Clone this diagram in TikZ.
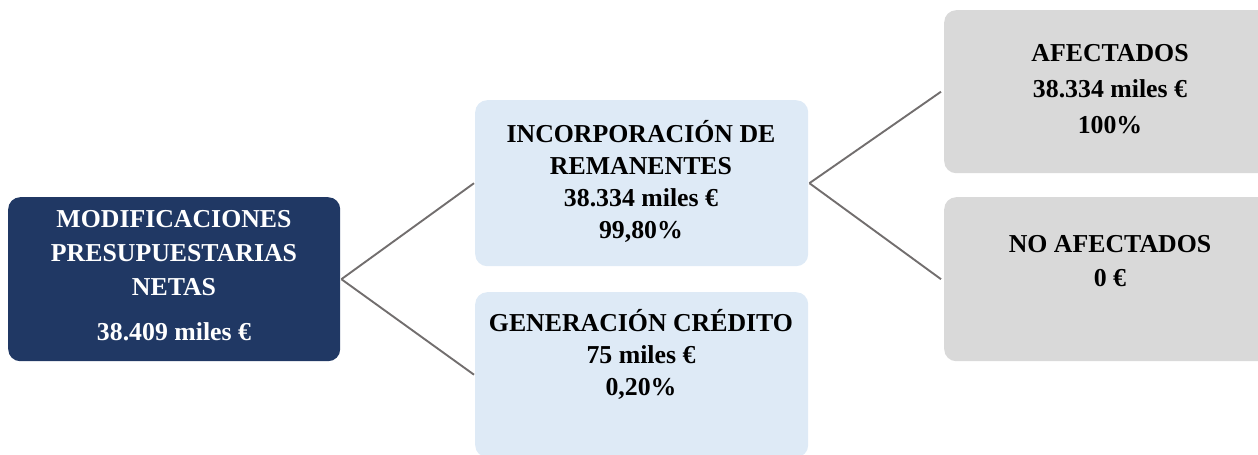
\documentclass[tikz,border=0pt]{standalone}
\usepackage{fontspec}
\setmainfont{Liberation Serif}
\definecolor{navy}{RGB}{32,56,100}
\definecolor{paleblue}{RGB}{222,234,246}
\definecolor{palegray}{RGB}{217,217,217}
\definecolor{linegray}{RGB}{114,110,110}
\begin{document}
\begin{tikzpicture}[x=1pt,y=-1pt,
  box/.style={rectangle, rounded corners=12pt, inner sep=0pt, anchor=north west,
    minimum width=332pt, minimum height=164pt},
  lbl/.style={align=center, font=\bfseries\fontsize{25.8}{33.5}\selectfont, anchor=base, inner sep=0pt},
  conn/.style={draw=linegray, line width=1.9pt}]
\useasboundingbox (0,0) rectangle (1258,455);
\clip (0,0) rectangle (1258,455);
\node[box, fill=navy] (L) at (8,197) {};
\node[box, fill=paleblue, minimum width=333pt, minimum height=166pt] (MT) at (475,100) {};
\node[box, fill=paleblue, minimum width=333pt, minimum height=165pt] (MB) at (475,292) {};
\node[box, fill=palegray, minimum height=163pt] (RT) at (944,10) {};
\node[box, fill=palegray] (RB) at (944,197) {};
\draw[conn] ([xshift=1pt]L.east) -- ([xshift=-1pt]MT.west);
\draw[conn] ([xshift=1pt]L.east) -- ([xshift=-1pt]MB.west);
\draw[conn] ([xshift=1pt]MT.east) -- ([xshift=-3pt]RT.west);
\draw[conn] ([xshift=1pt]MT.east) -- ([xshift=-3pt]RB.west);
\node[lbl, text=white, font=\bfseries\fontsize{25.8}{34}\selectfont] (Lt) at (174,340) {MODIFICACIONES\\PRESUPUESTARIAS\\NETAS\\[11pt]38.409 miles €};
\node[lbl, font=\bfseries\fontsize{25.8}{32}\selectfont] (MTt) at (641,238) {INCORPORACIÓN DE\\REMANENTES\\38.334 miles €\\99,80\%};
\node[lbl, font=\bfseries\fontsize{25.8}{32}\selectfont] (MBt) at (641,395) {GENERACIÓN CRÉDITO\\75 miles €\\0,20\%};
\node[lbl, font=\bfseries\fontsize{25.8}{36}\selectfont] (RTt) at (1110,133) {AFECTADOS\\38.334 miles €\\100\%};
\node[lbl, font=\bfseries\fontsize{25.8}{34}\selectfont] (RBt) at (1110,286) {NO AFECTADOS\\0 €};
\end{tikzpicture}
\end{document}
